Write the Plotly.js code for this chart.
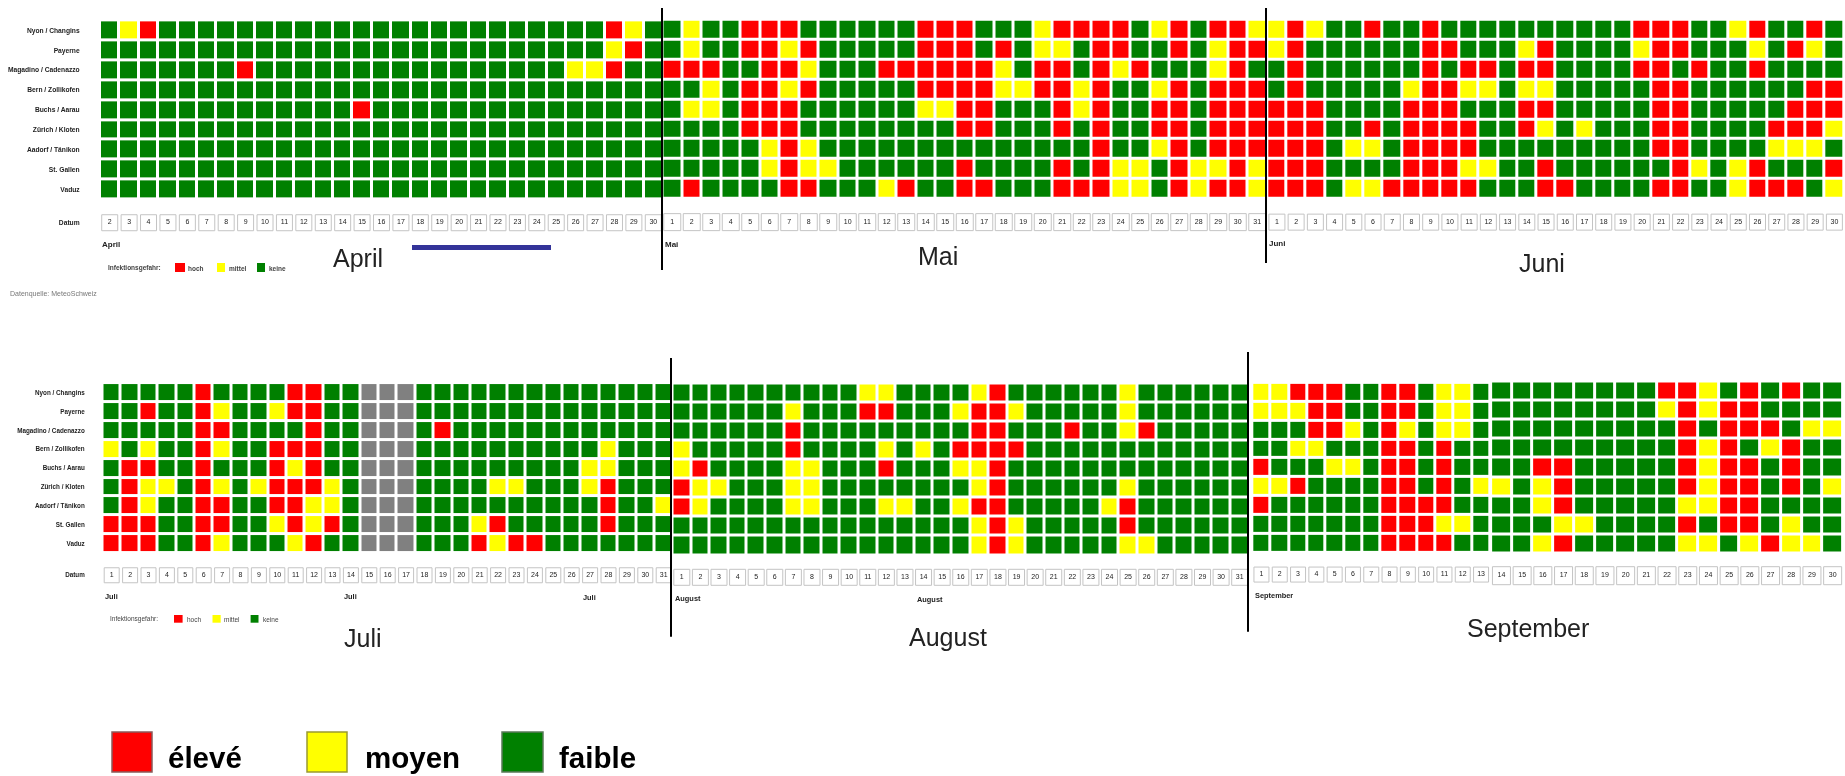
<!DOCTYPE html>
<html><head><meta charset="utf-8">
<script src="https://cdn.plot.ly/plotly-3.0.1.min.js"></script>
<style>html,body{margin:0;padding:0;background:#fff;overflow:hidden}#chart{width:1845px;height:776px;filter:blur(0.45px)}</style>
</head><body><div id="chart"></div>
<script>
const stations = ["Nyon / Changins","Payerne","Magadino / Cadenazzo","Bern / Zollikofen","Buchs / Aarau","Zürich / Kloten","Aadorf / Tänikon","St. Gallen","Vaduz"];
const dateLabel = "Datum";
// G = keine/faible, Y = mittel/moyen, R = hoch/élevé, X = keine Daten
const aprilDays = [2,3,4,5,6,7,8,9,10,11,12,13,14,15,16,17,18,19,20,21,22,23,24,25,26,27,28,29,30];
const aprilRows = [
"GYRGGGGGGGGGGGGGGGGGGGGGGGRYG".slice(0,26)+"RYG",
"GGGGGGGGGGGGGGGGGGGGGGGGGGYRG",
"GGGGGGGRGGGGGGGGGGGGGGGGYYRGG",
"GGGGGGGGGGGGGGGGGGGGGGGGGGGGG",
"GGGGGGGGGGGGGRGGGGGGGGGGGGGGG",
"GGGGGGGGGGGGGGGGGGGGGGGGGGGGG",
"GGGGGGGGGGGGGGGGGGGGGGGGGGGGG",
"GGGGGGGGGGGGGGGGGGGGGGGGGGGGG",
"GGGGGGGGGGGGGGGGGGGGGGGGGGGGG"];
const mayDays = [1,2,3,4,5,6,7,8,9,10,11,12,13,14,15,16,17,18,19,20,21,22,23,24,25,26,27,28,29,30,31];
const mayRows = [
"GYGGRRRGGGGGGRRRGGGYRRRRGYRGRRY",
"GYGGRRYRGGGGGRRRGRGYYGRRGGRGYRR",
"RRRGGRRYGGGRRRRRRYGRRGRYRGGGYRG",
"GGYGRRYRGGGGGRRRRYYRRYRGGYRGRRR",
"GYYGRRRGGGGGGYYRRGGGRYRGGRRGRRR",
"GGGGRRRGGGGGGGGRRGGGRGRGGRRGRRR",
"GGGGGYRYGGGGGGGGGGGGGGRGGYRGRRR",
"GGGGGYRYYGGGGGGRGGGGRGRYYGRYYRY",
"GRGGGGRRGGGYRGGRRGGGRRRYYGRYRRY"];
const juneDays = [1,2,3,4,5,6,7,8,9,10,11,12,13,14,15,16,17,18,19,20,21,22,23,24,25,26,27,28,29,30];
const juneRows = [
"YRYGGRGGRGGGGGGGGGGRRRGGYRGGRG",
"YRGGGGGGRRGGGYRGGGGYRRGGGYGRYG",
"GRGGGGGGRGRRGRRGGGGRRGRGGRGGGG",
"GRGGGGGYRRYYGYYGGGGGRRGGGGGGRR",
"RRRGGGGRRRGGGRRGGGGGRRGGGGGRRR",
"RRRGGRGRRRRGGRYGYGGGRRGGGGRRRY",
"RRRGYYGRRRRGGGGGGGGGRRGGGGYYYG",
"RRRGGGGRRRYYGGRGGGGGGRYGYRGGGR",
"RRRGYYRRRRRGGGRRGGGGRRGGYRRRGY"];
const julyDays = [1,2,3,4,5,6,7,8,9,10,11,12,13,14,15,16,17,18,19,20,21,22,23,24,25,26,27,28,29,30,31];
const julyRows = [
"GGGGGRGGGGRRGGXXXGGGGGGGGGGGGGG",
"GGRGGRYGGYRRGGXXXGGGGGGGGGGGGGG",
"GGGGGRRGGGGRGGXXXGRGGGGGGGGGGGG",
"YGYGGRYGGRRRGGXXXGGGGGGGGGGYGGG",
"GRRGGRGGGRYRGGXXXGGGGGGGGGYYGGG",
"GRYYGRYGYRRRYGXXXGGGGYYGGGYRGGG",
"GRYGGRRGGRRYYGXXXGGGGGGGGGGRGGY",
"RRRGGRRGGYRYRGXXXGGGYRGGGGGRGGG",
"RRRGGRYGGGYRGGXXXGGGRYRRGGGGGGG"];
const augustDays = [1,2,3,4,5,6,7,8,9,10,11,12,13,14,15,16,17,18,19,20,21,22,23,24,25,26,27,28,29,30,31];
const augustRows = [
"GGGGGGGGGGYYGGGGYRGGGGGGYGGGGGG",
"GGGGGGYGGGRRGGGYRRYGGGGGYGGGGGG",
"GGGGGGRGGGGGGGGGRRGGGRGGYRGGGGG",
"YGGGGGRGGGGYGYGRRRRGGGGGGGGGGGG",
"YRGGGGYYGGGRGGGYYRGGGGGGGGGGGGG",
"RYYGGGYYGGGGGGGGYRGGGGGGYGGGGGG",
"RYGGGGYYGGGYYGGYRRGGGGGYRGGGGGG",
"GGGGGGGGGGGGGGGGYRYGGGGGRGGGGGG",
"GGGGGGGGGGGGGGGGYRYGGGGGYYGGGGG"];
const septemberDaysA = [1,2,3,4,5,6,7,8,9,10,11,12,13];
const septemberRowsA = [
"YYRRRGGRRGYYG",
"YYYRRGGRRGYYG",
"GGGRRYGRYGYYG",
"GGYYGGGRRGRGG",
"RGGGYYGRRGRGG",
"YYRGGGGRRGRGY",
"RGGGGGGRRRRGG",
"GGGGGGGRRRYYG",
"GGGGGGGRRRRGG"];
const septemberDaysB = [14,15,16,17,18,19,20,21,22,23,24,25,26,27,28,29,30];
const septemberRowsB = [
"GGGGGGGGRRYGRGRGG",
"GGGGGGGGYRYRRGGGG",
"GGGGGGGGGRGRRRGYY",
"GGGGGGGGGRYRGYRGG",
"GGRRGGGGGRYRRGRGG",
"YGYRGGGGGRYRRGRGY",
"GGYRGGGGGYYRRGGGG",
"GGGYYGGGGRGRRGYGG",
"GGYRGGGGGYYGYRYYG"];
const levelOf = {G:0,Y:1,R:2,X:3};
const palette = {green:"#008000",yellow:"#ffff00",red:"#ff0000",gray:"#808080"};
const W=1845,H=776;
const panels = [
 {days:aprilDays,rows:aprilRows,x0:100,x1:663,y0:30.3,p:19.9,labels:true,labelSize:6.7,labelGap:18},
 {days:mayDays,rows:mayRows,x0:662.5,x1:1267,y0:29.7,p:19.9},
 {days:juneDays,rows:juneRows,x0:1267.3,x1:1844,y0:29.7,p:19.9},
 {days:julyDays,rows:julyRows,x0:102.5,x1:672.9,y0:392.5,p:18.9,labels:true,labelSize:6.3,labelGap:15.5},
 {days:augustDays,rows:augustRows,x0:672.5,x1:1249,y0:393,p:19.06},
 {days:septemberDaysA,rows:septemberRowsA,x0:1252.3,x1:1490.2,y0:392.3,p:18.85},
 {days:septemberDaysB,rows:septemberRowsB,x0:1491.1,x1:1843,y0:391,p:19.1}
];
const DATE_ROW=9.67, Y_END=10.2;
const rowIdx = stations.map((_,i)=>i);
const cs=[[0,palette.green],[.25,palette.green],[.25,palette.yellow],[.5,palette.yellow],[.5,palette.red],[.75,palette.red],[.75,palette.gray],[1,palette.gray]];
const traces=[];
const layout={width:W,height:H,margin:{l:0,r:0,t:0,b:0},paper_bgcolor:"#fff",plot_bgcolor:"#fff",showlegend:false,hovermode:false,shapes:[],annotations:[]};
panels.forEach((pn,k)=>{
 const s=k?String(k+1):"";
 const xa="x"+s, ya="y"+s;
 traces.push({type:"heatmap",x:pn.days,y:rowIdx,z:pn.rows.map(r=>r.split("").map(c=>levelOf[c])),xaxis:xa,yaxis:ya,
   colorscale:cs,zmin:-0.5,zmax:3.5,showscale:false,xgap:3,ygap:3,hoverinfo:"skip"});
 traces.push({type:"scatter",mode:"markers+text",x:pn.days,y:pn.days.map(()=>DATE_ROW),text:pn.days.map(String),xaxis:xa,yaxis:ya,
   textposition:"middle center",textfont:{family:"Liberation Sans",size:7,color:"#222"},cliponaxis:false,
   marker:{symbol:"square",size:Math.round((pn.x1-pn.x0)/pn.days.length)-3,color:"#fff",line:{color:"#c4c4c4",width:1}},hoverinfo:"skip"});
 layout["xaxis"+s]={domain:[pn.x0/W,pn.x1/W],anchor:ya,range:[pn.days[0]-.5,pn.days[pn.days.length-1]+.5],showgrid:false,zeroline:false,showline:false,showticklabels:false,ticks:"",fixedrange:true};
 const top=pn.y0-.5*pn.p, bottom=pn.y0+Y_END*pn.p;
 layout["yaxis"+s]={domain:[1-bottom/H,1-top/H],anchor:xa,range:[Y_END,-.5],showgrid:false,zeroline:false,showline:false,fixedrange:true,
   tickmode:"array",tickvals:[...rowIdx,DATE_ROW],ticktext:[...stations,dateLabel],showticklabels:!!pn.labels,
   ticks:pn.labels?"outside":"",ticklen:pn.labels?pn.labelGap:0,tickcolor:"rgba(0,0,0,0)",tickfont:{family:"Liberation Sans",size:pn.labelSize||7,color:"#222",weight:"bold"}};
});
const line=(x,y0,y1)=>({type:"line",xref:"paper",yref:"paper",x0:x/W,x1:x/W,y0:1-y0/H,y1:1-y1/H,line:{color:"#000",width:2}});
const box=(x0,x1,y0,y1,c,lc,lw)=>({type:"rect",xref:"paper",yref:"paper",x0:x0/W,x1:x1/W,y0:1-y0/H,y1:1-y1/H,fillcolor:c,line:{color:lc||c,width:lw||0}});
layout.shapes.push(line(662,8,270),line(1266,8,263),line(671,358,636.7),line(1248,352,631.7));
layout.shapes.push(box(412,551,245,250,"#333399"));
layout.shapes.push(box(175,185,263,272,palette.red),box(217,225,263,272,palette.yellow),box(257,265,263,272,palette.green));
layout.shapes.push(box(174,182.6,615,622.7,palette.red),box(212.5,220.7,615,622.7,palette.yellow),box(250.6,258.5,615,622.7,palette.green));
layout.shapes.push(box(112,152,732,772,palette.red,"#8a5a5a",1.5),box(307,347,732,772,palette.yellow,"#9a9a30",1.5),box(502,543,732,772,palette.green,"#5a7a5a",1.5));
const note=(t,x,y,size,opt={})=>layout.annotations.push({text:t,xref:"paper",yref:"paper",x:x/W,y:1-y/H,xanchor:opt.anchor||"left",yanchor:"middle",showarrow:false,borderpad:0,
  font:{family:"Liberation Sans",size,color:opt.color||"#222",weight:opt.weight||"normal"}});
[["April",101,244],["Mai",664,244],["Juni",1268,243.7]].forEach(a=>note(a[0],a[1],a[2],8,{weight:"bold"}));
[["Juli",104,596],["Juli",342.6,596],["Juli",582,597],["August",674.4,598],["August",916,599],["September",1254,595]].forEach(a=>note(a[0],a[1],a[2],7.4,{weight:"bold"}));
[["April",358,258],["Mai",938,256],["Juni",1541.5,263],["Juli",363,638],["August",948,637],["September",1527.6,628]].forEach(a=>note(a[0],a[1],a[2],25,{anchor:"center"}));
[["Infektionsgefahr:",107,268],["hoch",187,268],["mittel",228,268],["keine",268,268]].forEach(a=>note(a[0],a[1],a[2],6.5,{color:"#444",weight:"bold"}));
[["Infektionsgefahr:",109,619],["hoch",185.6,619],["mittel",223,619],["keine",261.5,619]].forEach(a=>note(a[0],a[1],a[2],6.5,{color:"#444"}));
note("Datenquelle: MeteoSchweiz",9,294,7,{color:"#777"});
[["élevé",167,757.5],["moyen",364,757.5],["faible",558,757.5]].forEach(a=>note(a[0],a[1],a[2],29.5,{color:"#000",weight:"bold"}));
Plotly.newPlot("chart",traces,layout,{displayModeBar:false,staticPlot:true});
</script></body></html>
